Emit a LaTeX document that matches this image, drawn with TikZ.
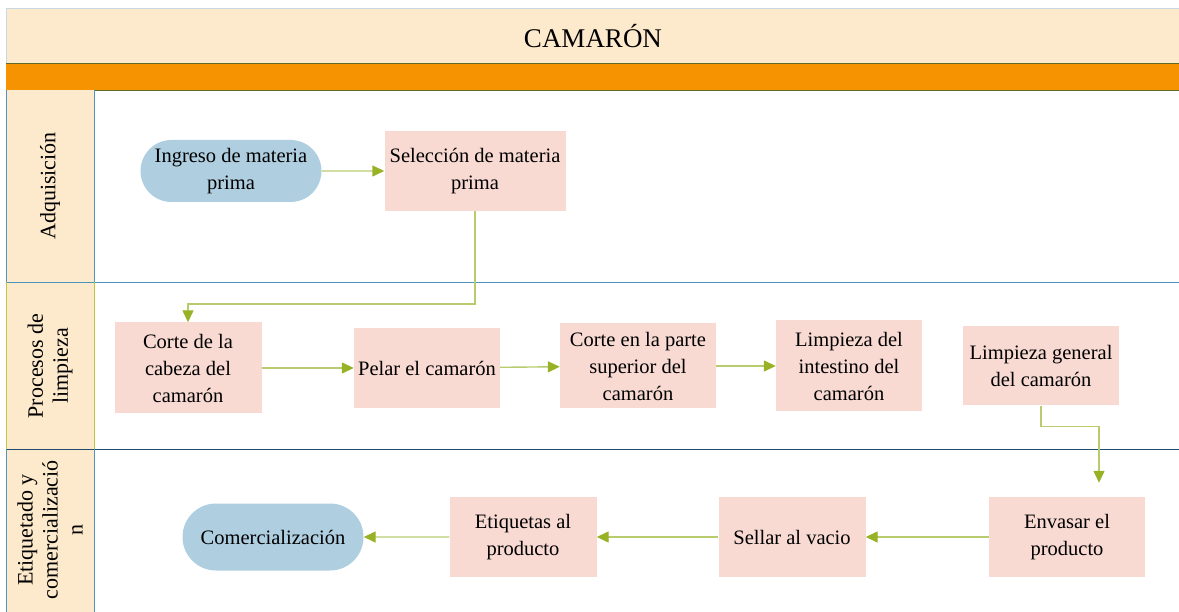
\documentclass[tikz,border=0pt]{standalone}
\usepackage{fontspec}
\setmainfont{Liberation Serif}
\usetikzlibrary{arrows.meta, positioning, shapes.misc}

\definecolor{titlecream}{RGB}{253,233,204}
\definecolor{barorange}{RGB}{245,147,0}
\definecolor{boxpink}{RGB}{248,218,211}
\definecolor{endblue}{RGB}{175,207,225}
\definecolor{flowline}{RGB}{184,204,110}
\definecolor{flowtip}{RGB}{152,178,38}
\definecolor{laneblue}{RGB}{75,150,190}
\definecolor{lanenavy}{RGB}{35,75,110}
\definecolor{laneolive}{RGB}{190,200,60}
\definecolor{barline}{RGB}{95,105,40}
\definecolor{framegrey}{RGB}{200,215,225}

\tikzset{
	proc/.style={rectangle, fill=boxpink, align=center, inner sep=0pt, font=\fontsize{20.5}{27}\selectfont},
	terminal/.style={rounded rectangle, fill=endblue, align=center, inner sep=0pt, font=\fontsize{20.5}{27}\selectfont},
	lanelabel/.style={rotate=90, align=center, font=\fontsize{22}{25}\selectfont},
	flow/.style={draw=flowline, line width=1.4pt, -{Triangle[length=12pt, width=11pt, color=flowtip]}}
}

\begin{document}
\begin{tikzpicture}[x=1pt, y=-1pt]
		\useasboundingbox (0,0) rectangle (1179,612);

		% title and orange bar
		\fill[titlecream] (6,8) rectangle (1179,63);
		\draw[framegrey] (1179,8) -- (6,8) -- (6,63);
		\node (title) at (593,36) {\fontsize{27}{30}\selectfont CAMARÓN};
		\fill[barorange] (6,63) rectangle (1179,90);
		\draw[barline] (6,63) -- (1179,63);
		\draw[barline] (6,90) -- (1179,90);

		% lanes
		\fill[titlecream] (6,90) rectangle (94,612);
		\draw[laneblue] (6,90) -- (6,282) -- (1179,282);
		\draw[laneblue] (94,90) -- (94,282);
		\draw[laneolive] (6,282) -- (6,449);
		\draw[laneolive] (94,282) -- (94,449);
		\draw[lanenavy] (6,449) -- (1179,449);
		\draw[laneblue] (6,449) -- (6,612);
		\draw[laneblue] (94,449) -- (94,612);

		\node[lanelabel] (laneA) at (50,186) {Adquisición};
		\node[lanelabel] (laneB) at (50,366) {Procesos de\\limpieza};
		\node[lanelabel] (laneC) at (50,530) {Etiquetado y\\comercializació\\n};

		% adquisicion
		\node[terminal, minimum width=181, minimum height=62] (ingreso) at (231,171) {Ingreso de materia\\prima};
		\node[proc, minimum width=181, minimum height=80] (seleccion) at (475,171) {Selección de materia\\prima};

		% procesos de limpieza
		\node[proc, minimum width=147, minimum height=91] (cabeza) at (188,368) {Corte de la\\cabeza del\\camarón};
		\node[proc, minimum width=146, minimum height=80] (pelar) at (427,368) {Pelar el camarón};
		\node[proc, minimum width=156, minimum height=85] (superior) at (638,366) {Corte en la parte\\superior del\\camarón};
		\node[proc, minimum width=146, minimum height=91] (intestino) at (849,366) {Limpieza del\\intestino del\\camarón};
		\node[proc, minimum width=156, minimum height=79] (general) at (1041,366) {Limpieza general\\del camarón};

		% etiquetado y comercializacion
		\node[proc, minimum width=156, minimum height=80] (envasar) at (1067,537) {Envasar el\\producto};
		\node[proc, minimum width=147, minimum height=80] (sellar) at (792,537) {Sellar al vacio};
		\node[proc, minimum width=147, minimum height=80] (etiquetas) at (523,537) {Etiquetas al\\producto};
		\node[terminal, minimum width=181, minimum height=67] (comercial) at (273,537) {Comercialización};

		% connectors
		\draw[flow] (ingreso) -- (seleccion);
		\draw[flow] (seleccion.south) -- ++(0,93) -| (cabeza.north);
		\draw[flow] (cabeza) -- (pelar);
		\draw[flow] (pelar) -- (superior);
		\draw[flow] (superior) -- (intestino);
		\draw[flow, shorten >=14pt] (general.south) -- ++(0,21) -| ([xshift=32]envasar.north);
		\draw[flow] (envasar) -- (sellar);
		\draw[flow] (sellar) -- (etiquetas);
		\draw[flow] (etiquetas) -- (comercial);
\end{tikzpicture}
\end{document}
